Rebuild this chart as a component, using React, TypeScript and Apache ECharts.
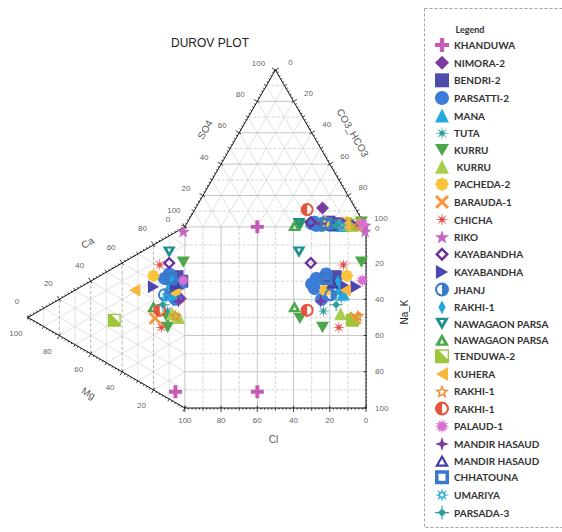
import React, { useEffect, useRef } from "react";
import * as echarts from "echarts";

const H = Math.sqrt(3) / 2;

// ---------- samples ----------
const sampleNames = [
  "KHANDUWA", "NIMORA-2", "BENDRI-2", "PARSATTI-2", "MANA", "TUTA", "KURRU", " KURRU",
  "PACHEDA-2", "BARAUDA-1", "CHICHA", "RIKO", "KAYABANDHA", "KAYABANDHA ", "JHANJ", "RAKHI-1",
  "NAWAGAON PARSA", "NAWAGAON PARSA ", "TENDUWA-2", "KUHERA", "RAKHI-1 ", "RAKHI-1  ", "PALAUD-1",
  "MANDIR HASAUD", "MANDIR HASAUD ", "CHHATOUNA", "UMARIYA", "PARSADA-3",
];

const sampleColors = [
  "#c45cb6", "#7a3b9c", "#4f4ba8", "#3b7dd8", "#25a8dc", "#2a9c9c", "#4ea64a", "#a5cf4c",
  "#f9c43a", "#f7963a", "#e84a43", "#c766c2", "#6c2f97", "#4b46b4", "#3a7bd0", "#22a6e0",
  "#1e8f8f", "#49a84a", "#9dc63d", "#f6b73c", "#f28b30", "#e5543c", "#d96fd0",
  "#7b3aa0", "#3f40a5", "#3a78c8", "#2aa8e0", "#2f9d9d",
];

// anions (%): Cl, SO4, CO3+HCO3 ; cations (%): Ca, Mg, Na+K
const clValues = [[60], [18], [16, 19], [27, 27, 24, 29, 21], [14, 12], [23], [36, 24, 1], [13, 7], [9, 21], [5], [11, 14], [0], [29], [10, 5], [19], [15], [36], [39], [7], [11], [4], [27], [1], [24], [18], [21], [13], [16]];
const so4Values = [[0], [12], [2, 3], [1, 3, 1, 2, 2], [1, 1], [1], [1, 0, 3], [2, 2], [3, 3], [2], [3, 2], [1], [3], [2, 1], [1], [1], [2], [1], [1], [1], [1], [11], [2], [2], [1], [2], [1], [1]];
const hco3Values = [[40], [70], [82, 78], [72, 70, 75, 69, 77], [85, 87], [76], [63, 76, 96], [85, 91], [88, 76], [93], [86, 84], [99], [68], [88, 94], [80], [84], [62], [60], [92], [88], [95], [62], [97], [74], [81], [77], [86], [83]];
const caValues = [[6], [59], [70, 69], [65, 62, 57, 67, 69], [61, 59], [48], [44, 39, 80], [48, 48], [63, 62], [40], [71, 37], [97], [75], [57, 64], [56], [66], [81], [46], [26], [49], [48], [46], [70], [57], [66], [67], [55], [50]];
const mgValues = [[6], [3], [5, 2], [13, 8, 6, 3, 10], [10, 8], [11], [11, 11, 1], [8, 4], [20, 6], [19], [16, 15], [1], [10], [20, 6], [13], [8], [10], [20], [45], [32], [6], [16], [1], [4], [6], [9], [12], [14]];
const naValues = [[88], [38], [25, 29], [22, 30, 37, 30, 21], [29, 33], [41], [45, 50, 19], [44, 48], [17, 32], [41], [13, 48], [2], [15], [23, 30], [31], [26], [9], [34], [29], [19], [46], [38], [29], [39], [28], [24], [33], [36]];

// axis tick labels
const triTicks = [0, 20, 40, 60, 80, 100];
const mgTicks = [20, 40, 60, 80, 100];
const squareTicks = [0, 20, 40, 60, 80, 100];

// ---------- symbols ----------
function starD(n: number, ro: number, ri: number, reverse = false, cx = 10, cy = 10) {
  const pts: string[] = [];
  for (let i = 0; i < 2 * n; i++) {
    const k = reverse ? 2 * n - i : i;
    const r = k % 2 ? ri : ro;
    const a = -Math.PI / 2 + (k * Math.PI) / n;
    pts.push((cx + r * Math.cos(a)).toFixed(2) + " " + (cy + r * Math.sin(a)).toFixed(2));
  }
  return "M" + pts.join("L") + "Z";
}

const sampleSymbols = [
  "path://M7 0L13 0L13 7L20 7L20 13L13 13L13 20L7 20L7 13L0 13L0 7L7 7Z",
  "diamond",
  "rect",
  "circle",
  "triangle",
  "path://" + starD(8, 10, 2.6),
  "path://M0 0L20 0L10 17.3Z",
  "triangle",
  "path://" + starD(8, 10, 8.2),
  "path://M0 3L3 0L10 7L17 0L20 3L13 10L20 17L17 20L10 13L3 20L0 17L7 10Z",
  "path://" + starD(8, 10, 2.6),
  "path://" + starD(5, 10, 4),
  "path://M10 0L20 10L10 20L0 10Z M10 5L5 10L10 15L15 10Z",
  "path://M0 0L17.3 10L0 20Z",
  "path://M10 0A10 10 0 1 1 10 20A10 10 0 1 1 10 0Z M10 3A7 7 0 0 0 10 17Z",
  "path://M5 0L10 10L5 20L0 10Z",
  "path://M0 0L20 0L10 17.3Z M7 3L10 9L13 3Z",
  "path://M10 0L20 17.3L0 17.3Z M10 8L7 14L13 14Z",
  "path://M0 0L20 0L20 20L0 20Z M6 2L18 14L18 2Z",
  "path://M0 10L17.3 0L17.3 20Z",
  "path://" + starD(5, 10, 4.4) + " " + starD(5, 4.6, 2, true),
  "path://M10 0A10 10 0 1 1 10 20A10 10 0 1 1 10 0Z M10 17A7 7 0 0 0 10 3Z",
  "path://" + starD(12, 10, 5.5),
  "path://M10 0L12.5 7.5L20 10L12.5 12.5L10 20L7.5 12.5L0 10L7.5 7.5Z",
  "path://M10 0L20 17.3L0 17.3Z M10 6L5.5 14.3L14.5 14.3Z",
  "path://M0 0L20 0L20 20L0 20Z M5 5L5 15L15 15L15 5Z",
  "path://" + starD(8, 10, 4) + " M10 7L7 10L10 13L13 10Z",
  "path://M10 4L16 10L10 16L4 10Z M9.2 0L10.8 0L10.8 20L9.2 20Z M0 9.2L20 9.2L20 10.8L0 10.8Z",
];

// ---------- geometry ----------
function anionXY(cl: number, so4: number, hco3: number) {
  const t = cl + so4 + hco3;
  const s = so4 / t, b = hco3 / t;
  return [100 * (s * 0.5 + b), 100 + 100 * H * s];
}
function cationXY(ca: number, mg: number, na: number) {
  const t = ca + mg + na;
  const m = mg / t, c = ca / t;
  return [-100 * H * m, 100 * (0.5 * m + c)];
}

function buildOption() {
  const light: any[] = [], dashed: any[] = [], mid: any[] = [], midDash: any[] = [], black: any[] = [], ticks: any[] = [];
  const seg = (out: any[], a: number[], b: number[]) => { out.push(a, b, null); };

  for (let k = 10; k < 100; k += 10) {
    // top triangle
    const yk = 100 + H * k;
    seg(k % 20 === 0 ? mid : dashed, [k / 2, yk], [100 - k / 2, yk]);
    seg(light, [k, 100], [(100 - k) / 2 + k, 100 + H * (100 - k)]);
    seg(light, [100 - k, 100], [(100 - k) / 2, 100 + H * (100 - k)]);
    // left triangle
    seg(k % 20 === 0 ? midDash : light, [-H * k, 0.5 * k], [-H * k, 100 - 0.5 * k]);
    seg(light, [0, k], [-H * (100 - k), 0.5 * (100 - k) + k]);
    seg(light, [0, 100 - k], [-H * (100 - k), 0.5 * (100 - k)]);
    // square
    seg(k % 20 === 0 ? mid : dashed, [k, 0], [k, 100]);
    seg(k % 20 === 0 ? mid : dashed, [0, k], [100, k]);
  }
  seg(mid, [0, 0], [0, 100]);
  seg(mid, [0, 100], [100, 100]);

  const apexT = [50, 100 + 100 * H];
  const apexL = [-100 * H, 50];
  const sides: [number[], number[], number[]][] = [
    [[0, 100], apexT, [-H, 0.5]],
    [[100, 100], apexT, [H, 0.5]],
    [apexL, [0, 100], [-0.5, H]],
    [apexL, [0, 0], [-0.5, -H]],
    [[0, 0], [100, 0], [0, -1]],
    [[100, 0], [100, 100], [1, 0]],
  ];
  sides.forEach(([p0, p1, n]) => {
    seg(black, p0, p1);
    for (let t = 0; t <= 100; t += 2) {
      const x = p0[0] + ((p1[0] - p0[0]) * t) / 100;
      const y = p0[1] + ((p1[1] - p0[1]) * t) / 100;
      let a = 0, b = 0.9;
      if (t % 20 === 0) { a = -1.3; b = 2.2; } else if (t % 10 === 0) { b = 1.5; }
      seg(ticks, [x + n[0] * a, y + n[1] * a], [x + n[0] * b, y + n[1] * b]);
    }
  });

  const lineSeries = (data: any[], color: string, width: number, type: string, z: number) => ({
    type: "line",
    silent: true,
    symbol: "none",
    showSymbol: false,
    connectNulls: false,
    clip: false,
    z,
    lineStyle: { color, width, type, opacity: 1 },
    data,
  });

  // labels
  const labels: any[] = [];
  const lab = (pt: number[], text: string, dx: number, dy: number, extra: any = {}) => {
    const r = ((extra.rotate || 0) * Math.PI) / 180;
    const off = [dx * Math.cos(r) - dy * Math.sin(r), dx * Math.sin(r) + dy * Math.cos(r)];
    labels.push({ value: pt, name: text, label: { offset: off, ...extra } });
  };
  triTicks.forEach((v) => lab([v / 2, 100 + H * v], String(v), -17, -7));
  triTicks.forEach((v) => lab([50 + v / 2, 100 + H * (100 - v)], String(v), 15, -8));
  triTicks.forEach((v) => lab([-H * (100 - v), 0.5 * (100 - v) + v], String(v), -11, -16));
  mgTicks.forEach((v) => lab([-H * v, 0.5 * v], String(v), -12, 16));
  squareTicks.forEach((v) => lab([100 - v, 0], String(v), 0, 12));
  squareTicks.forEach((v) => lab([100, 100 - v], String(v), 9, v === 0 ? 2 : 0, { align: "left" }));
  const title = { fontSize: 10, color: "#222" };
  lab([31, 100 + H * 62], "SO4", -36, 0, { ...title, rotate: 60 });
  lab([70, 100 + H * 60], "CO3_HCO3", 41, 0, { ...title, rotate: -60 });
  lab([-H * 55, 0.5 * 55 + 45], "Ca", -11, -34, { ...title, rotate: 30 });
  lab([-H * 55, 0.5 * 55], "Mg", -10, 35, { ...title, rotate: -30 });
  lab([50, 0], "Cl", -2, 31, title);

  const pointSeries = sampleNames.map((name, i) => {
    const data: number[][] = [];
    clValues[i].forEach((cl, j) => {
      const a = anionXY(cl, so4Values[i][j], hco3Values[i][j]);
      const c = cationXY(caValues[i][j], mgValues[i][j], naValues[i][j]);
      data.push(a, c, [a[0], c[1]]);
    });
    return {
      type: "scatter",
      name,
      data,
      symbol: sampleSymbols[i],
      symbolSize: 13,
      symbolKeepAspect: true,
      itemStyle: { color: sampleColors[i], opacity: 1 },
      silent: true,
      clip: false,
      z: 5,
    };
  });

  return {
    animation: false,
    backgroundColor: "#fff",
    title: {
      text: "DUROV PLOT",
      left: 171,
      top: 37,
      padding: 0,
      textStyle: { fontSize: 12, fontWeight: "normal", color: "#222", fontFamily: "Liberation Sans" },
    },
    legend: {
      data: sampleNames,
      orient: "vertical",
      left: 435,
      top: 38,
      padding: 0,
      itemWidth: 14,
      itemHeight: 14,
      itemGap: 3.65,
      selectedMode: false,
      textStyle: { fontSize: 10, fontWeight: "bold", fontFamily: "Lato", color: "#333" },
    },
    graphic: [
      {
        type: "rect",
        silent: true,
        shape: { x: 424.5, y: 8.5, width: 150, height: 519 },
        style: { fill: "none", stroke: "#999", lineWidth: 0.9, lineDash: [3, 2] },
      },
      {
        type: "text",
        silent: true,
        x: 470,
        y: 29,
        style: { text: "Legend", fontSize: 9, fontWeight: "bold", fontFamily: "Lato", fill: "#333", align: "center", verticalAlign: "middle" },
      },
      {
        type: "text",
        silent: true,
        x: 404,
        y: 312,
        rotation: Math.PI / 2,
        style: { text: "Na_K", fontSize: 10, fontFamily: "Liberation Sans", fill: "#222", align: "center", verticalAlign: "middle" },
      },
    ],
    grid: { left: 28, top: 70, width: 338, height: 338 },
    xAxis: { type: "value", min: -100 * H, max: 100, show: false },
    yAxis: { type: "value", min: 0, max: 100 + 100 * H, show: false },
    series: [
      lineSeries(light, "#dadada", 0.8, "solid", 1),
      lineSeries(dashed, "#cccccc", 0.8, "dashed", 1),
      lineSeries(mid, "#c0c0c0", 0.9, "solid", 2),
      lineSeries(midDash, "#b0b0b0", 0.9, "dashed", 2),
      lineSeries(black, "#111", 1, "solid", 3),
      lineSeries(ticks, "#111", 0.8, "solid", 3),
      {
        type: "scatter",
        name: "axisLabels",
        symbolSize: 1,
        itemStyle: { color: "rgba(0,0,0,0)" },
        silent: true,
        clip: false,
        z: 4,
        label: {
          show: true,
          position: "inside",
          formatter: (p: any) => p.name,
          fontSize: 8,
          color: "#333",
          fontFamily: "Liberation Sans",
        },
        data: labels,
      },
      ...pointSeries,
    ],
  };
}

export default function App() {
  const ref = useRef<HTMLDivElement>(null);
  useEffect(() => {
    if (!ref.current) return;
    const chart = echarts.init(ref.current, undefined, { renderer: "svg" });
    chart.setOption(buildOption() as any);
    return () => chart.dispose();
  }, []);
  return <div ref={ref} style={{ position: "fixed", left: 0, top: 0, width: 562, height: 532, background: "#fff" }} />;
}
